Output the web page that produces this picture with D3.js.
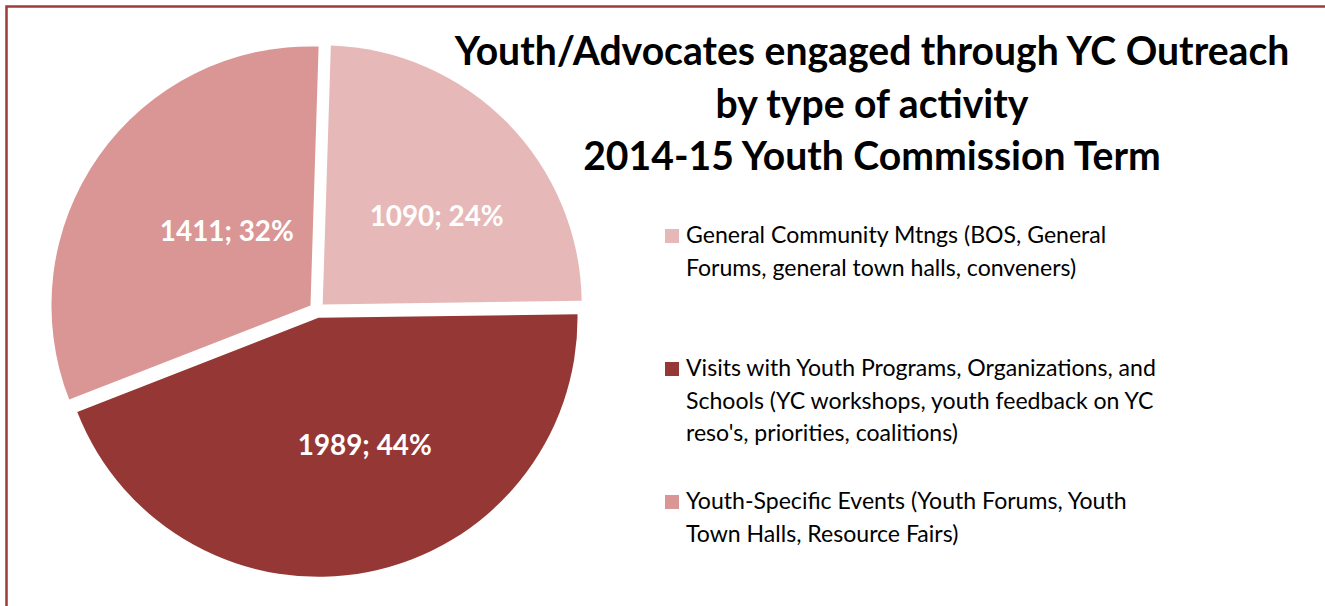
<!DOCTYPE html>
<html>
<head>
<meta charset="utf-8">
<script src="https://cdn.jsdelivr.net/npm/d3@7"></script>
<style>
  html, body { margin: 0; padding: 0; background: #fff; overflow: hidden; }
  svg { display: block; }
</style>
</head>
<body>
<svg id="chart" width="1325" height="606"></svg>
<script>
// ---- data ----
const categories = [
  "General Community Mtngs (BOS, General Forums, general town halls, conveners)",
  "Visits with Youth Programs, Organizations, and Schools (YC workshops, youth feedback on YC reso's, priorities, coalitions)",
  "Youth-Specific Events (Youth Forums, Youth Town Halls, Resource Fairs)"
];
const legendLines = [
  ["General Community Mtngs (BOS, General", "Forums, general town halls, conveners)"],
  ["Visits with Youth Programs, Organizations, and", "Schools (YC workshops, youth feedback on YC", "reso's, priorities, coalitions)"],
  ["Youth-Specific Events (Youth Forums, Youth", "Town Halls, Resource Fairs)"]
];
const values = [1090, 1989, 1411];
const percents = [24, 44, 32];
const titleLines = [
  "Youth/Advocates engaged through YC Outreach",
  "by type of activity",
  "2014-15 Youth Commission Term"
];
const colors = ["#E6B9B8", "#953735", "#D99694"];

// ---- layout ----
const svg = d3.select("#chart");
const FONT = "Lato, 'Open Sans', 'DejaVu Sans', sans-serif";

function fitSize(text, weight, target) {
  const t = svg.append("text").attr("font-family", FONT).attr("font-weight", weight)
    .attr("font-size", 100).text(text);
  const w = t.node().getComputedTextLength();
  t.remove();
  return 100 * target / w;
}

// border
svg.append("rect")
  .attr("x", 6.5).attr("y", 6.5)
  .attr("width", 1400).attr("height", 700)
  .attr("fill", "none").attr("stroke", "#9C3D3B").attr("stroke-width", 2.5);

// pie
const cx = 317, cy = 310, R = 259, explode = 8;
const rot = 1.8 * Math.PI / 180;
const pie = d3.pie().sort(null).startAngle(rot).endAngle(rot + 2 * Math.PI);
const arcs = pie(values);
const arc = d3.arc().innerRadius(0).outerRadius(R);
const color = d3.scaleOrdinal().domain(d3.range(values.length)).range(colors);

const g = svg.append("g").attr("transform", `translate(${cx},${cy})`);
const slices = g.selectAll("g.slice").data(arcs).join("g")
  .attr("class", "slice")
  .attr("transform", d => {
    const a = (d.startAngle + d.endAngle) / 2;
    return `translate(${explode * Math.sin(a)},${-explode * Math.cos(a)})`;
  });
slices.append("path").attr("d", arc).attr("fill", (d, i) => color(i));

// data labels (best-fit placement: polar offset in slice, angle shift deg & radius fraction)
const labelPlace = [[6.8, 0.556], [-8.8, 0.525], [6.4, 0.432]];
const labelSize = fitSize("1090; 24%", 700, 134);
slices.append("text")
  .attr("transform", (d, i) => {
    const a = (d.startAngle + d.endAngle) / 2 + labelPlace[i][0] * Math.PI / 180;
    const r = R * labelPlace[i][1];
    return `translate(${r * Math.sin(a)},${-r * Math.cos(a)})`;
  })
  .attr("text-anchor", "middle")
  .attr("dy", "0.35em")
  .attr("font-family", FONT).attr("font-weight", 700)
  .attr("font-size", labelSize)
  .attr("fill", "#fff")
  .text((d, i) => `${values[i]}; ${percents[i]}%`);

// title
const titleSize = fitSize(titleLines[0], 700, 835);
const titleBase = [65, 118, 170];
svg.append("g").selectAll("text").data(titleLines).join("text")
  .attr("x", 872).attr("y", (d, i) => titleBase[i])
  .attr("text-anchor", "middle")
  .attr("font-family", FONT).attr("font-weight", 700)
  .attr("font-size", titleSize).attr("fill", "#000")
  .text(d => d);

// legend
const legSize = fitSize(legendLines[1][0], 400, 470);
const legTop = [243, 376, 509];
const lineH = 32.5;
const leg = svg.append("g").selectAll("g").data(categories).join("g");
leg.append("rect")
  .attr("x", 665).attr("y", (d, i) => legTop[i] - 14)
  .attr("width", 14).attr("height", 14)
  .attr("fill", (d, i) => color(i));
leg.each(function(d, i) {
  d3.select(this).selectAll("text").data(legendLines[i]).join("text")
    .attr("x", 686).attr("y", (t, j) => legTop[i] + j * lineH)
    .attr("font-family", FONT).attr("font-size", legSize).attr("fill", "#000")
    .text(t => t);
});
</script>
</body>
</html>
